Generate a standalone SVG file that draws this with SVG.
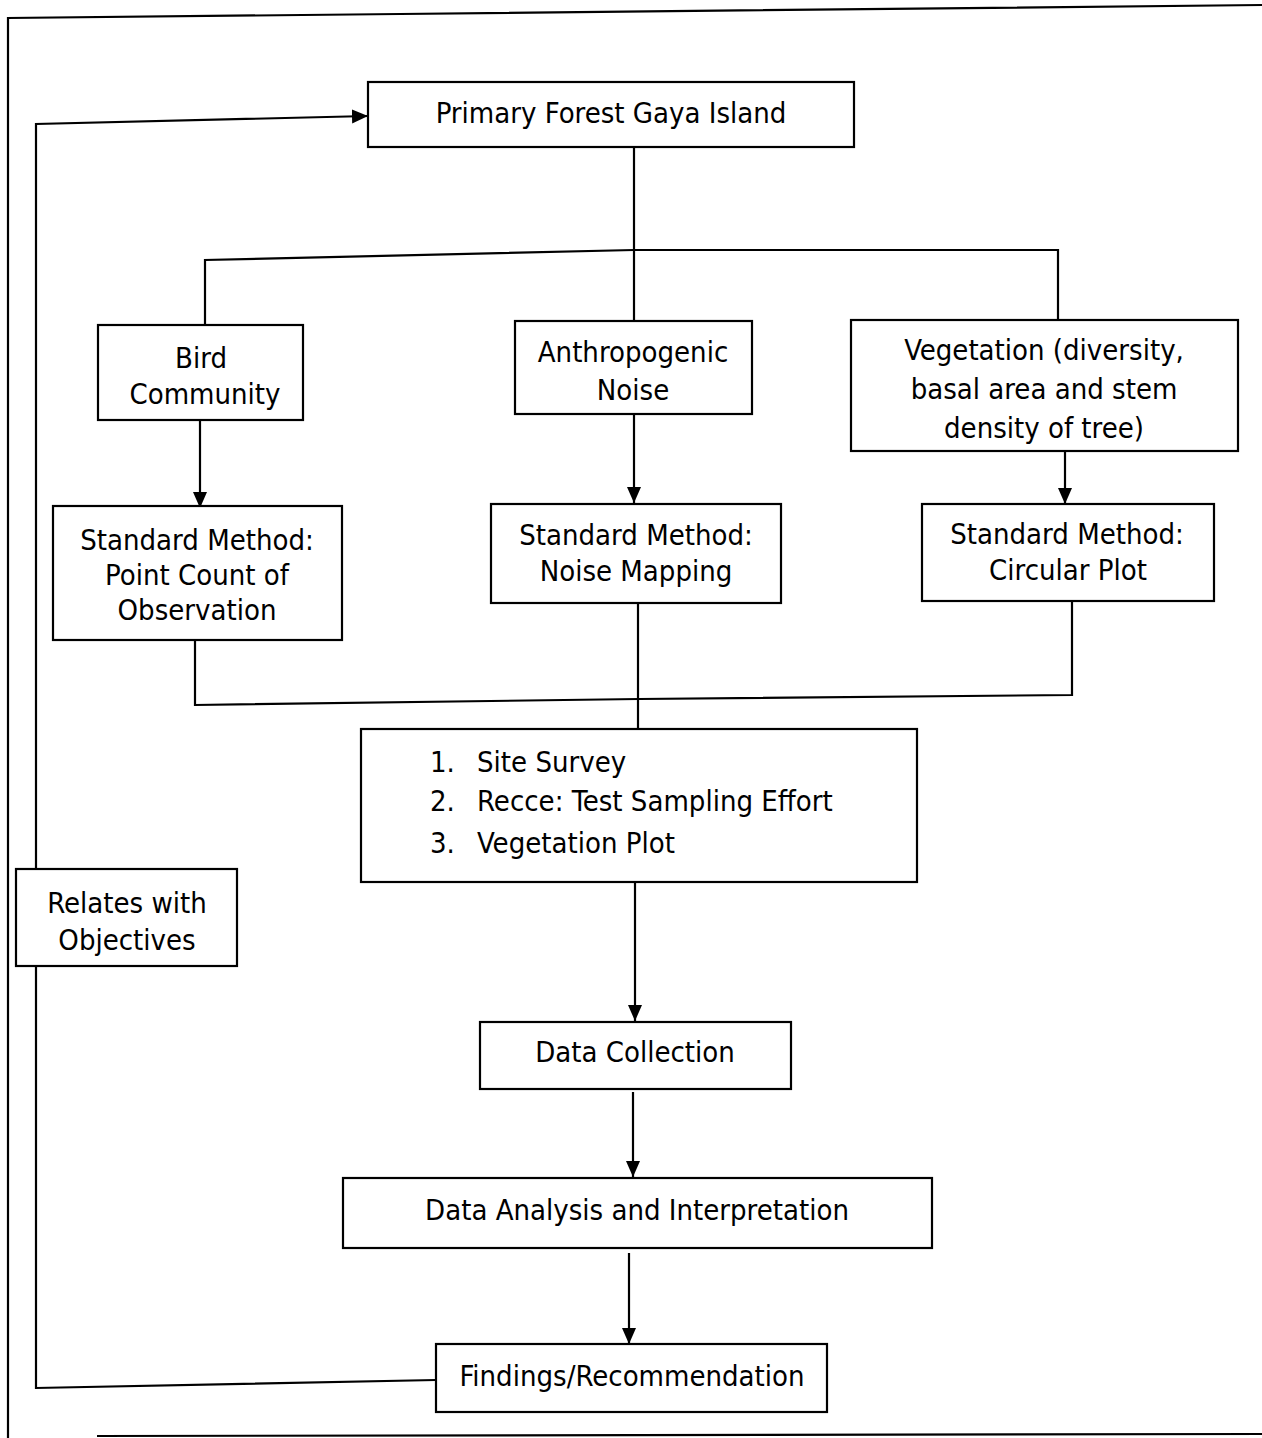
<svg xmlns="http://www.w3.org/2000/svg" width="1262" height="1438" viewBox="0 0 1262 1438">
<style>
.b{fill:#fff;stroke:#000;stroke-width:2.2}
.l{fill:none;stroke:#000;stroke-width:2.2}
text{font-family:"DejaVu Sans Condensed","DejaVu Sans",sans-serif;font-size:29px;fill:#000;text-anchor:middle}
.s{text-anchor:start}
</style>
<defs>
<marker id="ah" markerWidth="16" markerHeight="16" refX="16" refY="8" orient="auto" markerUnits="userSpaceOnUse" viewBox="0 0 16 16">
<path d="M0,1 L16,8 L0,15 Z" fill="#000"/>
</marker>
</defs>
<g id="frame">
<path class="l" d="M8,1438 V18 L400,14 L1262,5"/>
<path class="l" d="M97,1436 L1262,1434"/>
</g>
<g id="connectors">
<path class="l" d="M436,1380 L36,1388 V124 L368,116" marker-end="url(#ah)"/>
<path class="l" d="M634,147 V250"/>
<path class="l" d="M205,325 V260 L634,250 L1058,250 V321"/>
<path class="l" d="M634,250 V321"/>
<path class="l" d="M200,420 V508" marker-end="url(#ah)"/>
<path class="l" d="M634,414 V503" marker-end="url(#ah)"/>
<path class="l" d="M1065,451 V504" marker-end="url(#ah)"/>
<path class="l" d="M195,640 V705 L639,699 L1072,695 V601"/>
<path class="l" d="M638,603 V729"/>
<path class="l" d="M635,882 V1021" marker-end="url(#ah)"/>
<path class="l" d="M633,1092 V1177" marker-end="url(#ah)"/>
<path class="l" d="M629,1253 V1344" marker-end="url(#ah)"/>
</g>
<g id="primary">
<rect class="b" x="368" y="82" width="486" height="65"/>
<text x="611" y="123">Primary Forest Gaya Island</text>
</g>
<g id="bird">
<rect class="b" x="98" y="325" width="205" height="95"/>
<text x="201" y="368">Bird</text>
<text x="205" y="404">Community</text>
</g>
<g id="anthro">
<rect class="b" x="515" y="321" width="237" height="93"/>
<text x="633" y="362">Anthropogenic</text>
<text x="633" y="400">Noise</text>
</g>
<g id="vegetation">
<rect class="b" x="851" y="320" width="387" height="131"/>
<text x="1044" y="360">Vegetation (diversity,</text>
<text x="1044" y="399">basal area and stem</text>
<text x="1044" y="438">density of tree)</text>
</g>
<g id="pointcount">
<rect class="b" x="53" y="506" width="289" height="134"/>
<text x="197" y="550">Standard Method:</text>
<text x="197" y="585">Point Count of</text>
<text x="197" y="620">Observation</text>
</g>
<g id="noisemap">
<rect class="b" x="491" y="504" width="290" height="99"/>
<text x="636" y="545">Standard Method:</text>
<text x="636" y="581">Noise Mapping</text>
</g>
<g id="circular">
<rect class="b" x="922" y="504" width="292" height="97"/>
<text x="1067" y="544">Standard Method:</text>
<text x="1068" y="580">Circular Plot</text>
</g>
<g id="list">
<rect class="b" x="361" y="729" width="556" height="153"/>
<text class="s" x="430" y="772">1.</text>
<text class="s" x="477" y="772">Site Survey</text>
<text class="s" x="430" y="811">2.</text>
<text class="s" x="477" y="811">Recce: Test Sampling Effort</text>
<text class="s" x="430" y="853">3.</text>
<text class="s" x="477" y="853">Vegetation Plot</text>
</g>
<g id="datacollection">
<rect class="b" x="480" y="1022" width="311" height="67"/>
<text x="635" y="1062">Data Collection</text>
</g>
<g id="analysis">
<rect class="b" x="343" y="1178" width="589" height="70"/>
<text x="637" y="1220">Data Analysis and Interpretation</text>
</g>
<g id="findings">
<rect class="b" x="436" y="1344" width="391" height="68"/>
<text x="632" y="1386">Findings/Recommendation</text>
</g>
<g id="relates">
<rect class="b" x="16" y="869" width="221" height="97"/>
<text x="127" y="913">Relates with</text>
<text x="127" y="950">Objectives</text>
</g>
</svg>
